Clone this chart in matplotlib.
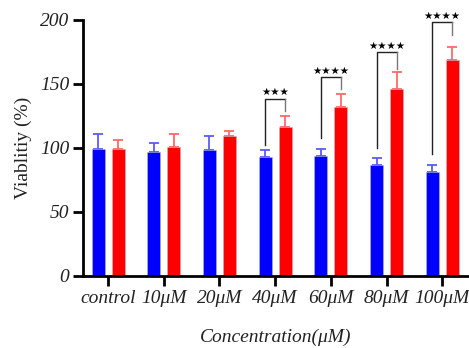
import numpy as np
import matplotlib
matplotlib.use('Agg')
import matplotlib.pyplot as plt

# datos
categorias = ['control', '10μM', '20μM', '40μM', '60μM', '80μM', '100μM']
azul = [99, 97, 98, 93, 93.5, 86.5, 81]
azul_err = [12, 6.5, 11, 5, 5.5, 5.5, 6]
rojo = [99, 100.5, 109.5, 116.5, 132, 146, 168.5]
rojo_err = [7, 10, 3.5, 8.5, 10, 13, 10]

# brackets de significancia: (indice, altura, pata izq, pata der, texto)
sig_idx = [3, 4, 5, 6]
sig_y = [138.5, 155, 174.5, 198]
sig_izq = [102, 107.5, 100, 95]
sig_der = [128.5, 146, 162, 188]
sig_txt = ['★★★', '★★★★', '★★★★', '★★★★']

plt.rcParams['font.family'] = ['Liberation Serif', 'DejaVu Serif']

fig = plt.figure(figsize=(4.69, 3.48), dpi=100)
ax = fig.add_axes([0.177, 0.207, 0.823, 0.736])

x = np.arange(len(categorias))
ancho = 0.235
off = 0.18

ax.bar(x - off, azul, ancho, color='#0000ff', edgecolor='#b8b8c8', linewidth=0.4, zorder=2)
ax.bar(x + off, rojo, ancho, color='#ff0000', edgecolor='#c8b8b8', linewidth=0.4, zorder=2)
ax.errorbar(x - off, azul, yerr=[np.zeros(len(azul)), azul_err], fmt='none',
            ecolor='#5a5aff', elinewidth=1.3, capsize=3.5, capthick=1.3, zorder=1)
ax.errorbar(x + off, rojo, yerr=[np.zeros(len(rojo)), rojo_err], fmt='none',
            ecolor='#ff6a6a', elinewidth=1.3, capsize=3.5, capthick=1.3, zorder=1)

for i, yb, yl, yr, t in zip(sig_idx, sig_y, sig_izq, sig_der, sig_txt):
    xl = i - off
    xr = i + off
    ax.plot([xl, xl, xr], [yl, yb, yb], color='#222222', lw=1.0, clip_on=False)
    ax.plot([xr, xr], [yb, yr], color='#777777', lw=1.0, clip_on=False)
    ax.text(i, yb + 1.0, t, ha='center', va='bottom', fontsize=7.5,
            family='DejaVu Sans', color='black', clip_on=False)

ax.set_xlim(-0.45, 6.48)
ax.set_ylim(0, 200)
ax.set_yticks([0, 50, 100, 150, 200])
ax.set_xticks(x)
ax.set_xticklabels(categorias, fontstyle='italic', fontsize=14, color='#222222')
for lab in ax.get_yticklabels():
    lab.set_fontstyle('italic')
    lab.set_fontsize(14)
    lab.set_color('#222222')

for s in ['top', 'right']:
    ax.spines[s].set_visible(False)
for s in ['left', 'bottom']:
    ax.spines[s].set_linewidth(2)
ax.tick_params(axis='both', width=2, length=7, direction='out', pad=3)

ax.set_ylabel('Viablitiy (%)', fontsize=14, color='#222222', labelpad=6)
ax.set_xlabel('Concentration(μM)', fontsize=14, fontstyle='italic', color='#222222', labelpad=16)

fig.savefig('out.png', dpi=100)
